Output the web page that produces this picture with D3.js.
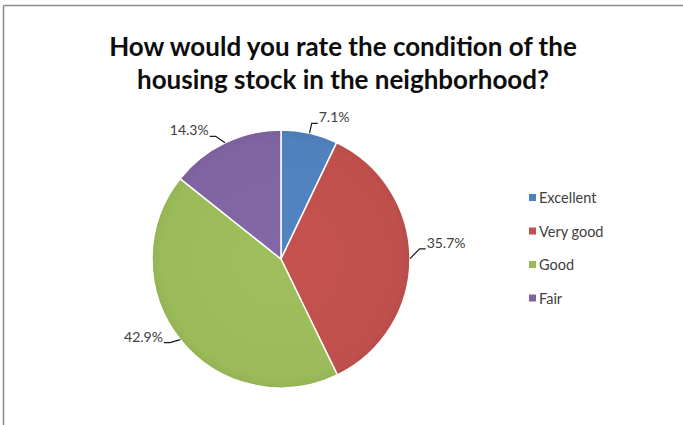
<!DOCTYPE html>
<html>
<head>
<meta charset="utf-8">
<script src="https://cdn.jsdelivr.net/npm/d3@7/dist/d3.min.js"></script>
<style>
  html, body { margin: 0; padding: 0; background: #fff; }
  svg { display: block; }
</style>
</head>
<body>
<svg id="chart" width="683" height="425"></svg>
<script>
// Survey responses: condition of the neighborhood housing stock
const categories = ["Excellent", "Very good", "Good", "Fair"];
const shares = [7.1, 35.7, 42.9, 14.3];
const labels = ["7.1%", "35.7%", "42.9%", "14.3%"];
const colors = ["#4F81BD", "#C0504D", "#9BBB59", "#8064A2"];
const titleLines = ["How would you rate the condition of the", "housing stock in the neighborhood?"];

const svg = d3.select("#chart");
const W = 683, H = 425;
const FONT = "Lato, 'Open Sans', sans-serif";

// chart area frame (top and left edges show)
svg.append("rect").attr("x", 0).attr("y", 0).attr("width", W).attr("height", H).attr("fill", "#fff");
svg.append("line").attr("x1", 3.5).attr("x2", W).attr("y1", 5.5).attr("y2", 5.5)
  .attr("stroke", "#8c8c8c").attr("stroke-width", 1.5);
svg.append("line").attr("x1", 3.5).attr("x2", 3.5).attr("y1", 5.5).attr("y2", H)
  .attr("stroke", "#8c8c8c").attr("stroke-width", 1.5);

// title
const title = svg.append("text")
  .attr("text-anchor", "middle")
  .attr("font-family", FONT)
  .attr("font-weight", "bold")
  .attr("font-size", 26)
  .attr("fill", "#0d0d0d");
titleLines.forEach((t, i) => {
  title.append("tspan").attr("x", 343).attr("y", 56 + i * 33).text(t);
});

// pie
const cx = 281, cy = 259, r = 129;
const pie = d3.pie().sort(null).value(d => d)(shares);
const arc = d3.arc().innerRadius(0).outerRadius(r);

const g = svg.append("g").attr("transform", `translate(${cx},${cy})`);

// subtle shading on each slice
const defs = svg.append("defs");
colors.forEach((c, i) => {
  const grad = defs.append("radialGradient").attr("id", "shade" + i)
    .attr("gradientUnits", "userSpaceOnUse").attr("cx", 0).attr("cy", 0).attr("r", r);
  grad.append("stop").attr("offset", "0%").attr("stop-color", d3.color(c).brighter(0.08));
  grad.append("stop").attr("offset", "92%").attr("stop-color", c);
  grad.append("stop").attr("offset", "100%").attr("stop-color", d3.color(c).darker(0.12));
});

g.selectAll("path.slice").data(pie).enter().append("path")
  .attr("class", "slice")
  .attr("d", arc)
  .attr("fill", (d, i) => `url(#shade${i})`)
  .attr("stroke", "#fff")
  .attr("stroke-width", 1.5)
  .attr("stroke-linejoin", "round");

// data labels with elbow leader lines
const mid = d => (d.startAngle + d.endAngle) / 2;
const pt = (a, rad) => [rad * Math.sin(a), -rad * Math.cos(a)];
// label elbows lean a little away from the slice midline (radians)
const elbowTurn = [0, -0.07, 0.03, -0.04];

pie.forEach((d, i) => {
  const a = mid(d);
  const p0 = pt(a, r);
  const p1 = pt(a + elbowTurn[i], r + 10);
  const right = Math.sin(a) >= 0;
  const p2 = [p1[0] + (right ? 6 : -6), p1[1]];
  g.append("polyline")
    .attr("points", [p0, p1, p2].map(p => p.join(",")).join(" "))
    .attr("fill", "none").attr("stroke", "#1a1a1a").attr("stroke-width", 1.2);
  g.append("text")
    .attr("x", p2[0] + (right ? 1 : -1))
    .attr("y", p2[1] - 1)
    .attr("text-anchor", right ? "start" : "end")
    .attr("font-family", FONT)
    .attr("font-size", 14)
    .attr("fill", "#404040")
    .text(labels[i]);
});

// legend
const legend = svg.append("g").attr("transform", "translate(529,198)");
categories.forEach((c, i) => {
  const row = legend.append("g").attr("transform", `translate(0,${i * 33.5})`);
  row.append("rect").attr("x", 0).attr("y", -4).attr("width", 7).attr("height", 7)
    .attr("fill", colors[i]);
  row.append("text").attr("x", 10).attr("y", 5)
    .attr("font-family", FONT)
    .attr("font-size", 14.5)
    .attr("fill", "#404040")
    .text(c);
});
</script>
</body>
</html>
